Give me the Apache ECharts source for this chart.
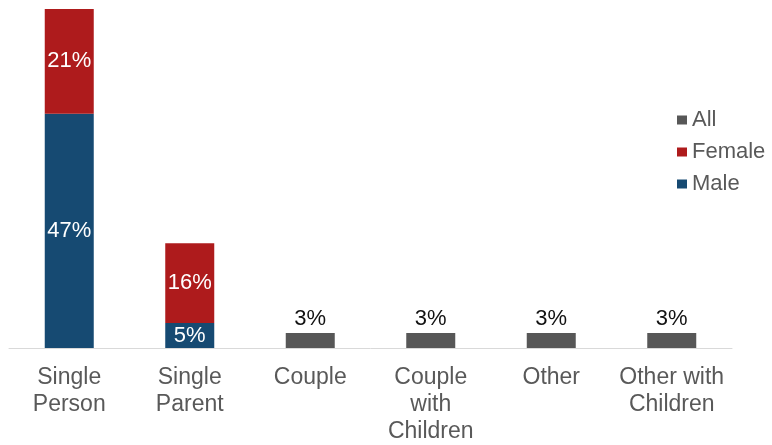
<!DOCTYPE html>
<html>
<head>
<meta charset="utf-8">
<script src="https://cdn.jsdelivr.net/npm/echarts@6/dist/echarts.min.js"></script>
<style>
  html, body { margin: 0; padding: 0; background: #ffffff; }
  #chart { width: 772px; height: 445px; }
</style>
</head>
<body>
<div id="chart"></div>
<script>
// Household types (line breaks follow the axis label wrapping)
const categories = ['Single\nPerson', 'Single\nParent', 'Couple', 'Couple\nwith\nChildren', 'Other', 'Other with\nChildren'];

// Share of households, percent
const maleValues   = [47, 5, null, null, null, null];
const femaleValues = [21, 16, null, null, null, null];
const allValues    = [null, null, 3, 3, 3, 3];

const FONT = '"Liberation Sans", Arial, sans-serif';
const COLORS = { male: '#164a72', female: '#ae1b1c', all: '#575757' };

const chart = echarts.init(document.getElementById('chart'), null, { renderer: 'canvas' });

const insideLabel = {
  show: true,
  position: 'inside',
  color: '#ffffff',
  fontFamily: FONT,
  fontSize: 22,
  formatter: p => p.value + '%'
};

chart.setOption({
  animation: false,
  backgroundColor: '#ffffff',
  grid: { left: 9, right: 40, top: 9, bottom: 97, containLabel: false },
  legend: {
    orient: 'vertical',
    left: 677,
    top: 109,
    padding: 0,
    data: ['All', 'Female', 'Male'],
    icon: 'rect',
    itemWidth: 10,
    itemHeight: 9,
    itemGap: 10,
    textStyle: { fontFamily: FONT, fontSize: 22, color: '#595959', lineHeight: 22 }
  },
  xAxis: {
    type: 'category',
    data: categories,
    axisLine: { lineStyle: { color: '#d9d9d9', width: 1 } },
    axisTick: { show: false },
    axisLabel: {
      interval: 0,
      margin: 16,
      color: '#595959',
      fontFamily: FONT,
      fontSize: 23,
      lineHeight: 27
    }
  },
  yAxis: {
    type: 'value',
    min: 0,
    max: 68,
    show: false,
    splitLine: { show: false }
  },
  series: [
    {
      name: 'Male',
      type: 'bar',
      stack: 'total',
      barWidth: 49,
      data: maleValues,
      itemStyle: { color: COLORS.male },
      label: insideLabel
    },
    {
      name: 'Female',
      type: 'bar',
      stack: 'total',
      barWidth: 49,
      data: femaleValues,
      itemStyle: { color: COLORS.female },
      label: insideLabel
    },
    {
      name: 'All',
      type: 'bar',
      stack: 'total',
      barWidth: 49,
      data: allValues,
      itemStyle: { color: COLORS.all },
      label: {
        show: true,
        position: 'top',
        distance: 3,
        color: '#111111',
        fontFamily: FONT,
        fontSize: 22,
        formatter: p => p.value + '%'
      }
    }
  ]
});
</script>
</body>
</html>
